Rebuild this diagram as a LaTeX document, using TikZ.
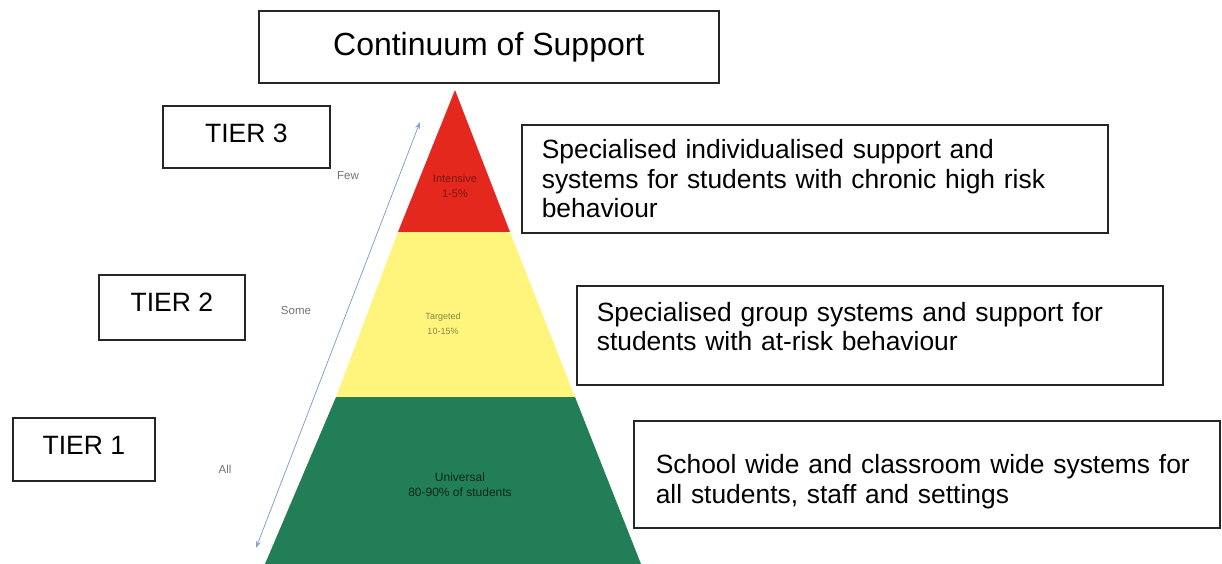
\documentclass[tikz,border=0pt]{standalone}
\usepackage{fontspec}
\setmainfont{Liberation Sans}
\usetikzlibrary{arrows.meta}
\definecolor{tierred}{RGB}{228,40,30}
\definecolor{tieryellow}{RGB}{255,245,124}
\definecolor{tiergreen}{RGB}{34,126,86}
\definecolor{scalearrow}{RGB}{135,160,212}
% extra room below / above a line of text, used to nudge text inside its frame
\newcommand{\padbelow}[1]{\rule[-#1]{0pt}{0pt}}
\newcommand{\padabove}[1]{\rule{0pt}{#1}}
\begin{document}
\begin{tikzpicture}[x=1pt,y=-1pt,
  frame/.style={draw=black!85,line width=1.6pt,rectangle,inner sep=0pt,anchor=north west},
  tierbox/.style={frame,font=\fontsize{26.5}{30}\selectfont},
  descbox/.style={frame,font=\fontsize{26.4}{29.5}\selectfont,align=left,inner xsep=20pt},
  bandtext/.style={font=\fontsize{11}{15}\selectfont,align=center},
  scaletext/.style={font=\fontsize{11.5}{13}\selectfont,text=black!55}]
\useasboundingbox (0,0) rectangle (1222,564);

% title
\node[frame,minimum width=460pt,minimum height=72pt,font=\fontsize{32}{36}\selectfont]
  (title) at (258,10) {Continuum of Support\padbelow{4pt}};

% pyramid bands (apex at 455,90)
\fill[tierred] (455,90) -- (510,232) -- (398,232) -- cycle;
\fill[tieryellow] (398,232) -- (510,232) -- (575,397) -- (336,397) -- cycle;
\fill[tiergreen] (336,397) -- (575,397) -- (641,564) -- (265,564) -- cycle;

\node[bandtext,text=black!45!tierred] (intensive) at (455,186) {Intensive\\1-5\%};
\node[bandtext,font=\fontsize{9}{15}\selectfont,text=black!45!tieryellow] (targeted) at (443,324) {Targeted\\10-15\%};
\node[bandtext,font=\fontsize{12}{15}\selectfont,text=black!70!tiergreen] (universal) at (460,485) {Universal\\80-90\% of students};

% tier boxes
\node[tierbox,minimum width=167pt,minimum height=62pt] (t3) at (162,105) {TIER 3\padbelow{8pt}};
\node[tierbox,minimum width=146pt,minimum height=65pt] (t2) at (98,274) {TIER 2\padbelow{10pt}};
\node[tierbox,minimum width=142pt,minimum height=63pt] (t1) at (12,417) {TIER 1\padbelow{8pt}};

% scale arrow from all to few
\coordinate (top) at (420,122);
\coordinate (bottom) at (256,548);
\draw[scalearrow,line width=0.8pt,{Stealth[length=7pt,width=5pt]}-{Stealth[length=7pt,width=5pt]}] (bottom) -- (top);
\node[scaletext] (few) at (348,176) {Few};
\node[scaletext] (some) at (296,311) {Some};
\node[scaletext] (all) at (225,469) {All};

% descriptions
\node[descbox,text width=546pt,minimum height=108pt] (d3) at (521,124)
  {Specialised individualised support and\\systems for students with chronic high risk\\behaviour};
\node[descbox,text width=546pt,minimum height=99pt] (d2) at (576,285)
  {Specialised group systems and support for\\students with at-risk behaviour\padbelow{18pt}};
\node[descbox,text width=542pt,minimum height=107pt,inner xsep=22pt] (d1) at (633,420)
  {\padabove{34pt}School wide and classroom wide systems for\\all students, staff and settings};
\end{tikzpicture}
\end{document}
